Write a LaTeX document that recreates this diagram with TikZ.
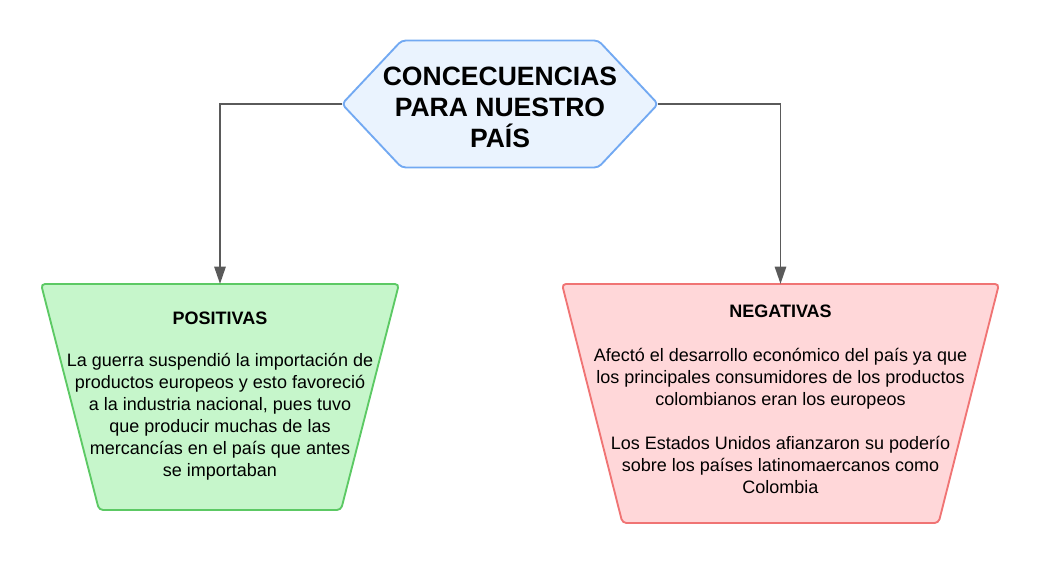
\documentclass[tikz,border=0pt]{standalone}
\usepackage{fontspec}
\setmainfont{Liberation Sans}
\usetikzlibrary{arrows.meta,positioning,shapes.geometric,shapes.symbols}
\definecolor{hexfill}{HTML}{EAF3FE}
\definecolor{hexline}{HTML}{72A9F2}
\definecolor{posfill}{HTML}{C6F6CB}
\definecolor{posline}{HTML}{5CC964}
\definecolor{negfill}{HTML}{FFD7D9}
\definecolor{negline}{HTML}{F07474}
\definecolor{arrgray}{HTML}{5A5A5A}

\begin{document}
\begin{tikzpicture}[x=0.75pt,y=-0.75pt,font=\fontsize{13.5}{16.5}\selectfont,
  hexa/.style={signal,signal to=west and east,signal pointer angle=93.6,
               minimum width=237pt,minimum height=95.2pt,draw=hexline,
               fill=hexfill,line width=1.4pt,rounded corners=3pt,
               inner sep=1pt,outer sep=0pt},
  trap/.style={trapezium,shape border rotate=180,trapezium stretches body=true,
               line width=1.4pt,rounded corners=3pt,inner xsep=2pt,
               inner ysep=0pt,outer sep=0pt},
  txt/.style={align=center,inner sep=0pt},
  arr/.style={draw=arrgray,line width=1.4pt,-{Triangle[length=13pt,width=8.5pt]}}]
\useasboundingbox (0,0) rectangle (1040,564);
\node[hexa] (cons) at (500,104) {\strut};
\node[trap,trapezium left angle=75.6,trapezium right angle=75.6,
      minimum width=268.5pt,draw=posline,fill=posfill] (pos) at (220,397)
  {\rule{0pt}{169.5pt}};
\node[trap,trapezium left angle=75.8,trapezium right angle=75.8,
      minimum width=327.8pt,draw=negline,fill=negfill] (neg) at (780.5,403.5)
  {\rule{0pt}{179.3pt}};
\node[txt,font=\fontsize{19.9}{23.3}\selectfont\bfseries] (constxt) at (500,107)
  {CONCECUENCIAS\\PARA NUESTRO\\PAÍS};
\node[txt] (postxt) at (220,396)
  {\textbf{POSITIVAS}\\[15.5pt]
   La guerra suspendió la importación de\\productos europeos y esto favoreció\\
   a la industria nacional, pues tuvo\\que producir muchas de las\\
   mercancías en el país que antes\\se importaban};
\node[txt] (negtxt) at (780.5,399)
  {\textbf{NEGATIVAS}\\[16.5pt]
   Afectó el desarrollo económico del país ya que\\
   los principales consumidores de los productos\\
   colombianos eran los europeos\\[16.5pt]
   Los Estados Unidos afianzaron su poderío\\
   sobre los países latinomaercanos como\\Colombia};
\draw[arr] (cons.west) -| (pos.north);
\draw[arr] (cons.east) -| (neg.north);
\end{tikzpicture}
\end{document}
